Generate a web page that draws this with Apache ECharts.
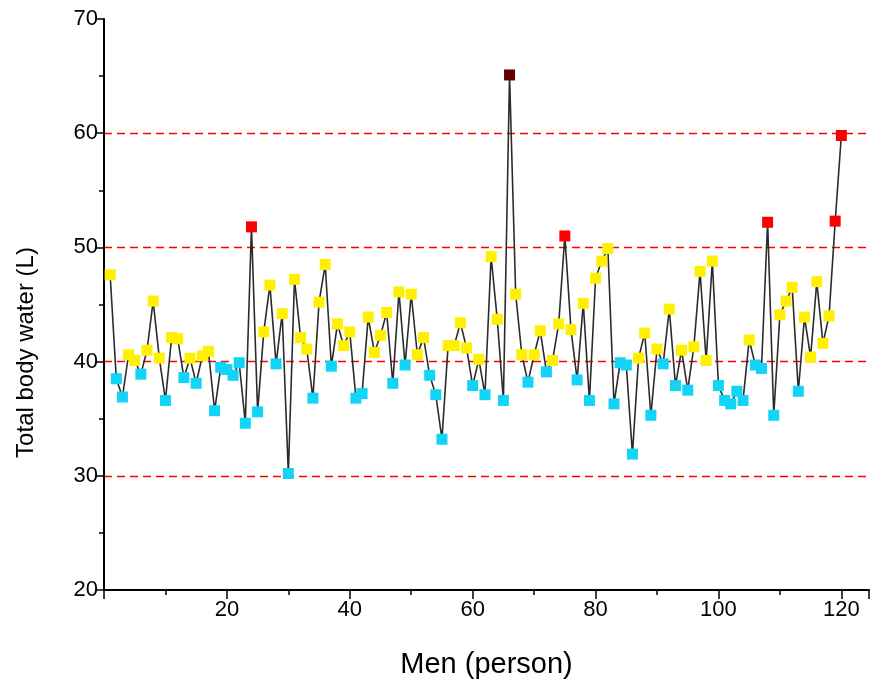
<!DOCTYPE html>
<html>
<head>
<meta charset="utf-8">
<script src="https://cdn.jsdelivr.net/npm/echarts@6/dist/echarts.min.js"></script>
<style>
  html, body { margin: 0; padding: 0; background: #fff; }
  #chart { width: 872px; height: 686px; }
</style>
</head>
<body>
<div id="chart"></div>
<script>
// total body water (L) per man, person 1..120
var water = [
  47.6, 38.5, 36.9, 40.6, 40.1, 38.9, 41.0, 45.3, 40.3, 36.6,
  42.1, 42.0, 38.6, 40.3, 38.1, 40.5, 40.9, 35.7, 39.5, 39.3,
  38.8, 39.9, 34.6, 51.8, 35.6, 42.6, 46.7, 39.8, 44.2, 30.2,
  47.2, 42.1, 41.1, 36.8, 45.2, 48.5, 39.6, 43.3, 41.4, 42.6,
  36.8, 37.2, 43.9, 40.8, 42.3, 44.3, 38.1, 46.1, 39.7, 45.9,
  40.6, 42.1, 38.8, 37.1, 33.2, 41.4, 41.4, 43.4, 41.2, 37.9,
  40.2, 37.1, 49.2, 43.7, 36.6, 65.1, 45.9, 40.6, 38.2, 40.6,
  42.7, 39.1, 40.1, 43.3, 51.0, 42.8, 38.4, 45.1, 36.6, 47.3,
  48.8, 49.9, 36.3, 39.9, 39.7, 31.9, 40.3, 42.5, 35.3, 41.1,
  39.8, 44.6, 37.9, 41.0, 37.5, 41.3, 47.9, 40.1, 48.8, 37.9,
  36.6, 36.3, 37.4, 36.6, 41.9, 39.7, 39.4, 52.2, 35.3, 44.1,
  45.3, 46.5, 37.4, 43.9, 40.4, 47.0, 41.6, 44.0, 52.3, 59.8
];
var yTicks = [20, 30, 40, 50, 60, 70];
var xTicks = [20, 40, 60, 80, 100, 120];

function pointColor(v) {
  if (v >= 60) return '#660000';
  if (v >= 50) return '#FF0000';
  if (v >= 40) return '#FFF000';
  return '#12D4F7';
}

var points = water.map(function (v, i) {
  return { value: [i + 1, v], itemStyle: { color: pointColor(v) } };
});

var font = 'Liberation Sans, Arial, sans-serif';
var chart = echarts.init(document.getElementById('chart'));

var option = {
  animation: false,
  backgroundColor: '#fff',
  grid: { left: 104, right: 0, top: 19, bottom: 96, containLabel: false },
  xAxis: [{
    type: 'value',
    min: 0, max: 124.5, interval: 20,
    name: 'Men (person)',
    nameLocation: 'middle',
    nameGap: 60,
    nameTextStyle: { fontFamily: font, fontSize: 29, color: '#000' },
    axisLine: { show: true, onZero: false, lineStyle: { color: '#000', width: 2 } },
    axisTick: { show: true, inside: false, length: 9, lineStyle: { color: '#000', width: 1.5 } },
    minorTick: { show: true, splitNumber: 2, length: 5, lineStyle: { color: '#000', width: 1.5 } },
    axisLabel: {
      fontFamily: font, fontSize: 22, color: '#000', margin: 9,
      formatter: function (v) { return xTicks.indexOf(v) >= 0 ? String(v) : ''; }
    },
    splitLine: { show: false }
  }],
  yAxis: [{
    type: 'value',
    min: yTicks[0], max: yTicks[yTicks.length - 1], interval: 10,
    name: 'Total body water (L)',
    nameLocation: 'middle',
    nameGap: 66,
    nameTextStyle: { fontFamily: font, fontSize: 24, color: '#000', padding: [0, 96, 0, 0] },
    axisLine: { show: true, onZero: false, lineStyle: { color: '#000', width: 2 } },
    axisTick: { show: true, inside: false, length: 9, lineStyle: { color: '#000', width: 1.5 } },
    minorTick: { show: true, splitNumber: 2, length: 5, lineStyle: { color: '#000', width: 1.5 } },
    axisLabel: { fontFamily: font, fontSize: 22, color: '#000', margin: 6 },
    splitLine: {
      show: true, showMinLine: false, showMaxLine: false,
      lineStyle: { color: '#FF0000', type: [8, 5], width: 1.3 }
    }
  }],
  series: [{
    type: 'line',
    data: points,
    symbol: 'rect',
    symbolSize: 11,
    showAllSymbol: true,
    lineStyle: { color: '#2b2b2b', width: 1.6 },
    itemStyle: { borderWidth: 0 }
  }]
};

chart.setOption(option);
</script>
</body>
</html>
